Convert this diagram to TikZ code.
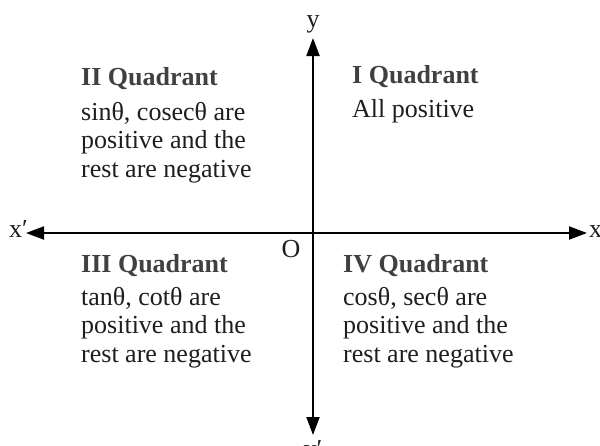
\documentclass[tikz,border=0pt]{standalone}
\usepackage{fontspec}
\setmainfont{Liberation Serif}
\usetikzlibrary{arrows.meta,positioning}
\definecolor{headgray}{HTML}{404040}
\definecolor{ink}{HTML}{1E1E1E}

\begin{document}
\begin{tikzpicture}[x=1pt, y=-1pt, node distance=34pt,
    lbl/.style={inner sep=0pt, font=\fontsize{26}{28.5}\selectfont, text=ink},
    qhead/.style={lbl, anchor=base west, font=\fontsize{26}{28.5}\selectfont\bfseries, text=headgray},
    qtext/.style={lbl, align=left},
    axis/.style={{Triangle[length=18pt,width=13pt]}-{Triangle[length=18pt,width=13pt]}, line width=2pt}]
    \useasboundingbox (0,0) rectangle (600,445);
    % axes
    \coordinate (W) at (26,233);
    \coordinate (E) at (587,233);
    \coordinate (N) at (313,38);
    \coordinate (S) at (313,435);
    \draw[axis] (W) -- (E);
    \draw[axis] (N) -- (S);
    \node[lbl, anchor=base east] (xl) at (28,237) {x′};
    \node[lbl, anchor=base west] (xr) at (589,237) {x};
    \node[lbl, above=5pt of N] (yt) {y};
    \node[lbl, below=5pt of S] (yb) {y′};
    \node[lbl, anchor=base] (o) at (291,257) {O};
    % quadrants (multi-line text sits on its last baseline)
    \node[qhead] (q1) at (352,83) {I Quadrant};
    \node[qtext, below=of q1.base west, anchor=base west] (t1) {All positive};
    \node[qhead] (q2) at (81,85) {II Quadrant};
    \node[qtext, below=92pt of q2.base west, anchor=base west] (t2) {sinθ, cosecθ are\\positive and the\\rest are negative};
    \node[qhead] (q3) at (81,272) {III Quadrant};
    \node[qtext, below=90pt of q3.base west, anchor=base west] (t3) {tanθ, cotθ are\\positive and the\\rest are negative};
    \node[qhead] (q4) at (343,272) {IV Quadrant};
    \node[qtext, below=90pt of q4.base west, anchor=base west] (t4) {cosθ, secθ are\\positive and the\\rest are negative};
\end{tikzpicture}
\end{document}
